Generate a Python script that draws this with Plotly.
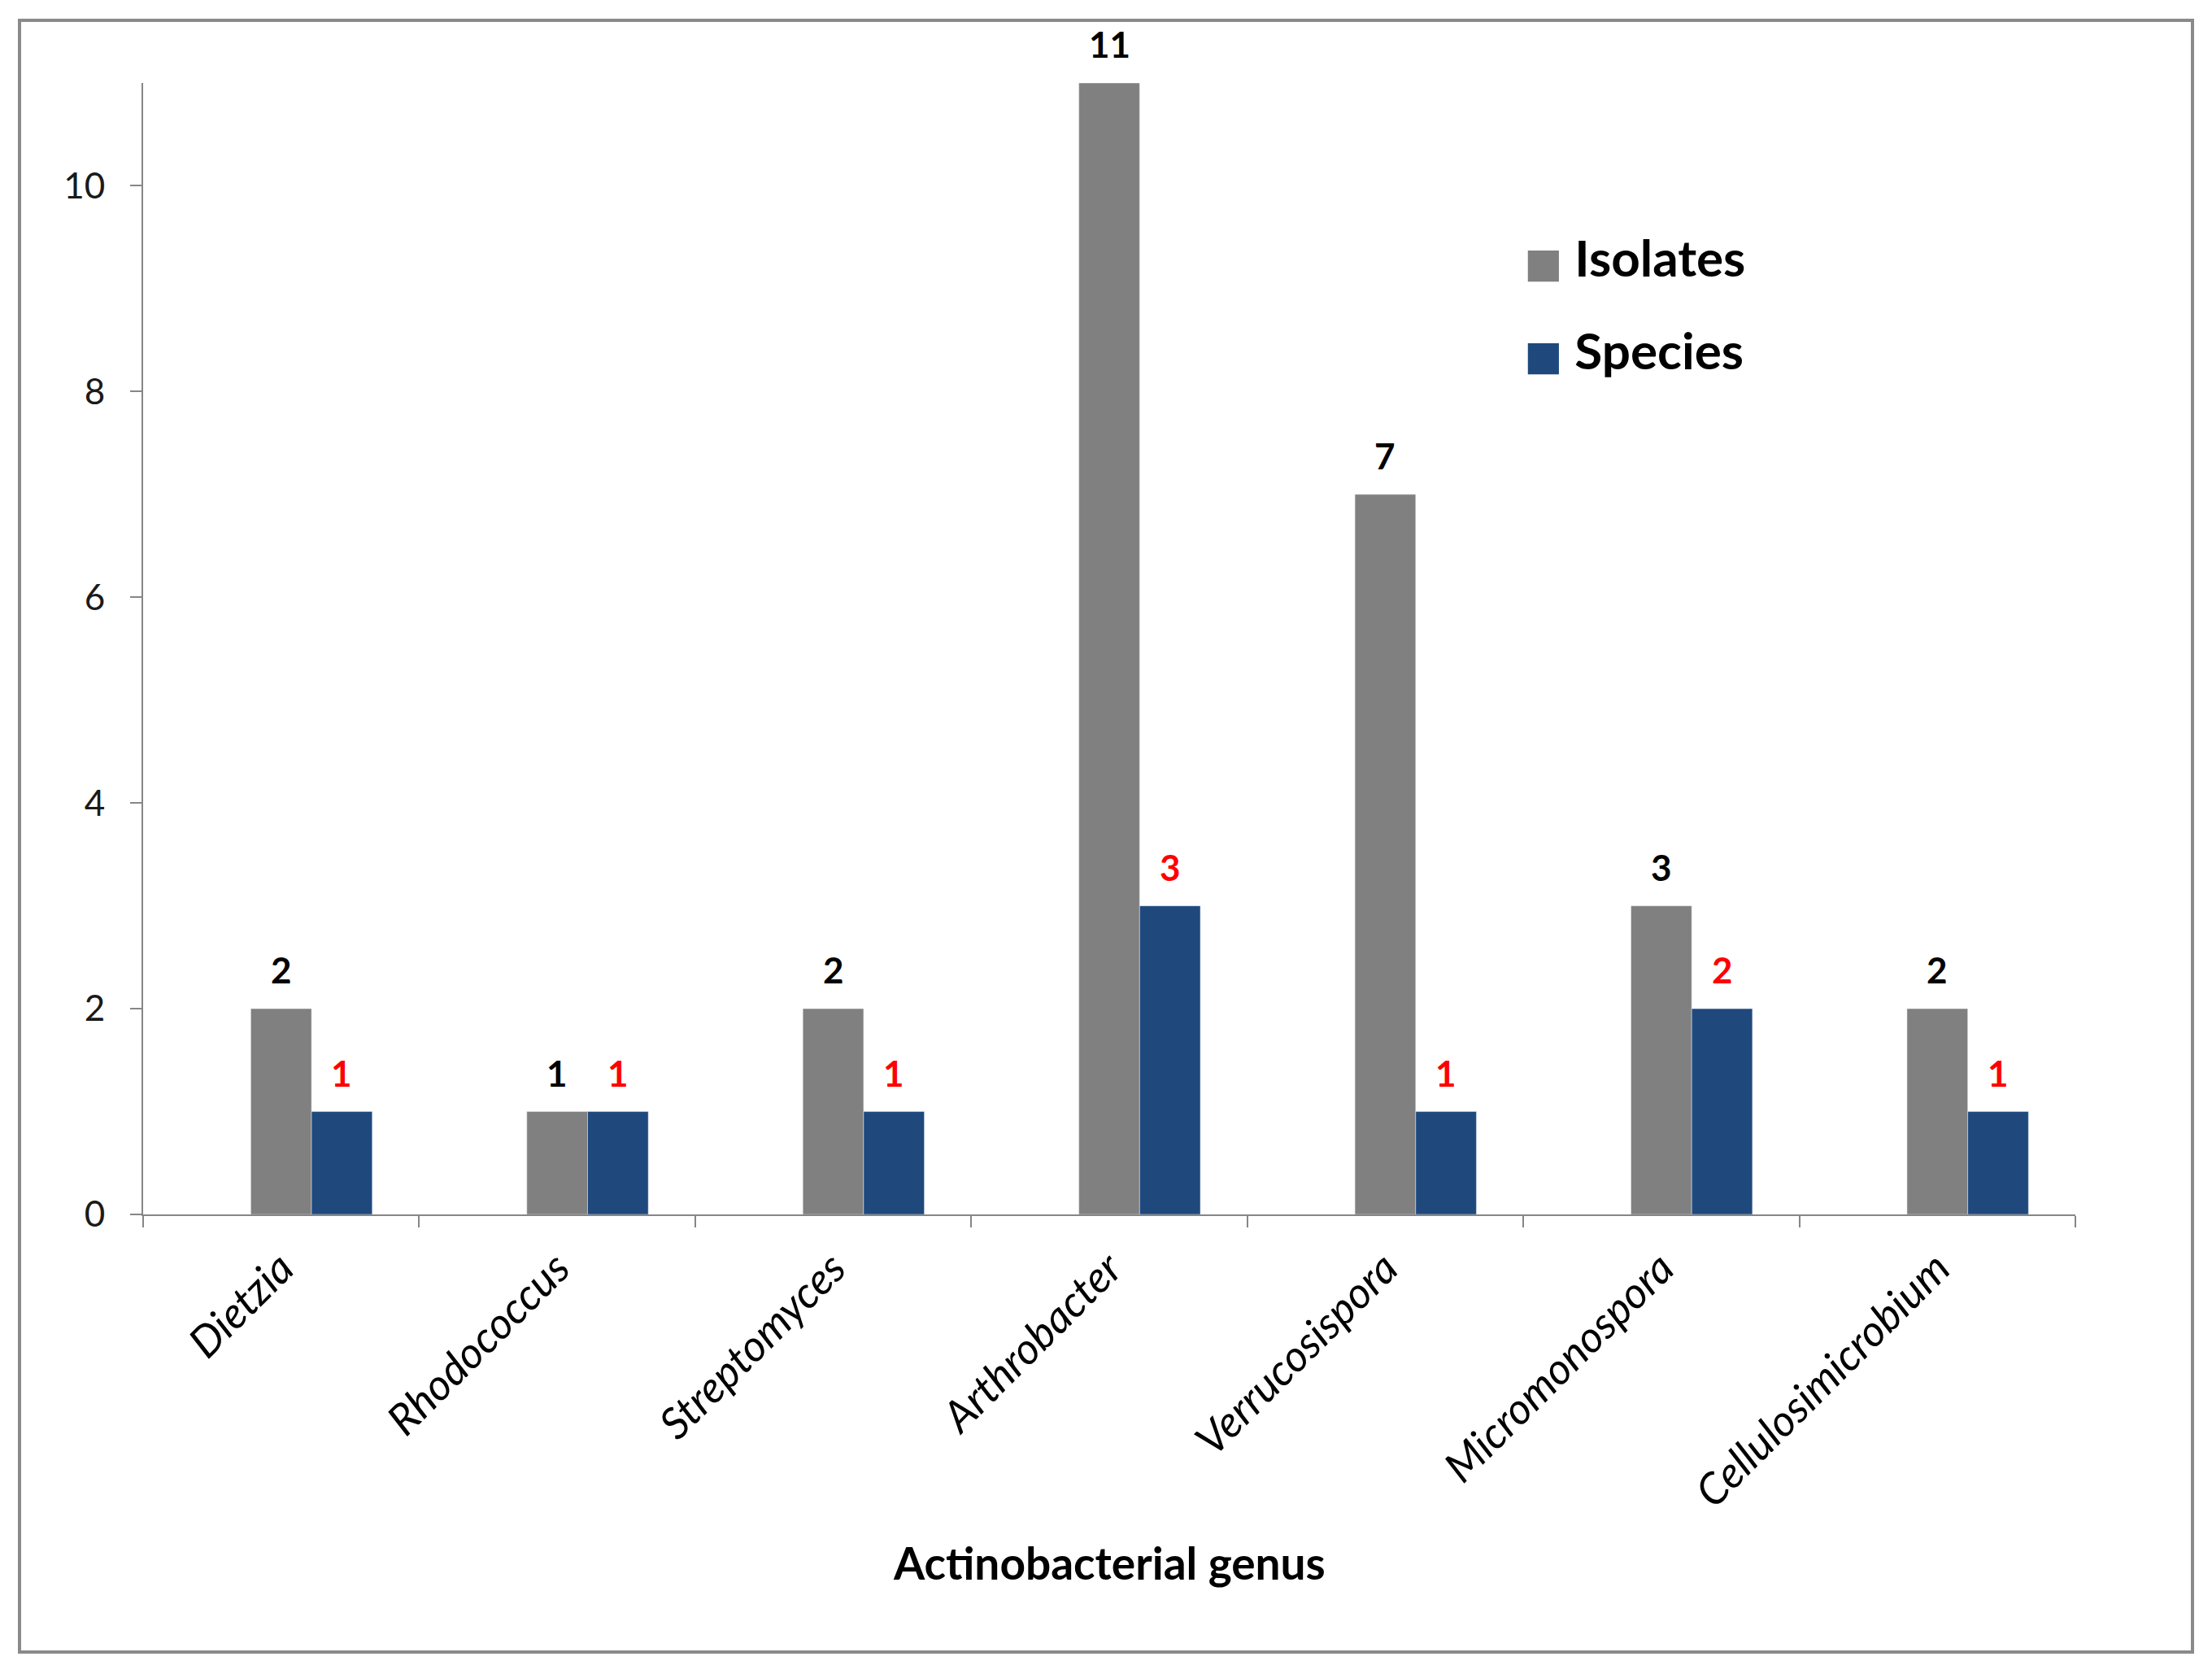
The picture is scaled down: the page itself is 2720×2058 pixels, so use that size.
import plotly.graph_objects as go

# ---- data ----
genera = ["Dietzia", "Rhodococcus", "Streptomyces", "Arthrobacter",
          "Verrucosispora", "Micromonospora", "Cellulosimicrobium"]
isolates = [2, 1, 2, 11, 7, 3, 2]
species = [1, 1, 1, 3, 1, 2, 1]
y_ticks = [0, 2, 4, 6, 8, 10]
series_names = ["Isolates", "Species"]
x_title = "Actinobacterial genus"

# ---- style ----
W, H = 2720, 2058
PAGE_OFF = 8                                # browser body margin
L, R, T, B = 176, 2552, 102, 1493          # plot-area box in page pixels
GREY, BLUE, RED = "#808080", "#1F497D", "#FF0000"
AXIS = "#868686"
FONT = "Lato"
BAR_W = 0.22


def px(x):
    return (x - L) / (R - L)


def py(y):
    return (B - y) / (B - T)


idx = list(range(len(genera)))

fig = go.Figure()
fig.add_bar(x=genera, y=isolates, name=series_names[0], marker_color=GREY,
            width=BAR_W, offset=-BAR_W / 2, showlegend=False)
fig.add_bar(x=genera, y=species, name=series_names[1], marker_color=BLUE,
            width=BAR_W, offset=BAR_W / 2, showlegend=False)

annotations = []
for i, v in zip(idx, isolates):
    annotations.append(dict(x=i, y=v, xref="x", yref="y", text=str(v),
                            showarrow=False, yanchor="bottom", yshift=20,
                            font=dict(family=FONT, size=44, color="#000000",
                                      weight="bold")))
for i, v in zip(idx, species):
    annotations.append(dict(x=i + BAR_W, y=v, xref="x", yref="y", text=str(v),
                            showarrow=False, yanchor="bottom", yshift=20,
                            font=dict(family=FONT, size=44, color=RED,
                                      weight="bold")))

# legend (large square keys)
for name, col, ypx in [(series_names[0], GREY, 316), (series_names[1], BLUE, 430)]:
    annotations.append(dict(
        x=px(1872), y=py(ypx), xref="paper", yref="paper",
        xanchor="left", yanchor="middle", showarrow=False,
        text=(f"<span style='color:{col};font-family:DejaVu Sans;"
              f"font-size:50px'>■</span> {name}"),
        font=dict(family=FONT, size=62, color="#000000", weight="bold")))

# x-axis title
annotations.append(dict(x=0.5, y=py(1921), xref="paper", yref="paper",
                        xanchor="center", yanchor="middle", showarrow=False,
                        text=x_title,
                        font=dict(family=FONT, size=55, color="#000000",
                                  weight="bold")))

fig.update_layout(
    width=W, height=H,
    margin=dict(l=L - PAGE_OFF, r=W - R + PAGE_OFF, t=T - PAGE_OFF,
                b=H - B + PAGE_OFF, pad=0),
    paper_bgcolor="white", plot_bgcolor="white",
    barmode="group",
    font=dict(family=FONT, color="#1a1a1a"),
    annotations=annotations,
    shapes=[dict(type="rect", xref="paper", yref="paper",
                 x0=px(24), x1=px(2696), y0=py(2031), y1=py(25),
                 line=dict(color="#8a8a8a", width=4), layer="below")],
)
fig.update_xaxes(
    type="category", range=[-0.5, len(genera) - 0.5],
    showline=True, linecolor=AXIS, linewidth=2,
    ticks="outside", tickson="boundaries", ticklen=14, tickcolor=AXIS,
    tickwidth=2, tickangle=-45, showgrid=False,
    tickfont=dict(family=FONT, size=53, style="italic", color="#000000"),
    ticklabelstandoff=12,
)
fig.update_yaxes(
    range=[0, 11], tickvals=y_ticks, showline=True, linecolor=AXIS,
    linewidth=2, ticks="outside", ticklen=14, tickcolor=AXIS, tickwidth=2,
    showgrid=False, zeroline=False,
    tickfont=dict(family=FONT, size=44, color="#1a1a1a"),
    ticklabelstandoff=22,
)

fig.write_html("out.html")
